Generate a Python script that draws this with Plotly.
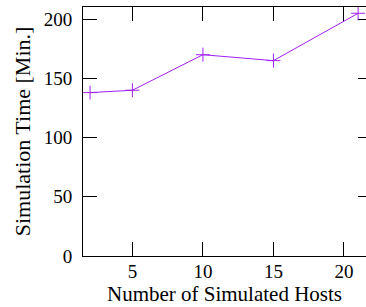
import plotly.graph_objects as go

hosts = [2, 5, 10, 15, 21]
sim_time = [138, 140, 170, 165, 205]
x_ticks = [5, 10, 15, 20]
y_ticks = [0, 50, 100, 150, 200]

FONT = "Liberation Serif"
COLOR = "#A020F0"

fig = go.Figure()
fig.add_trace(go.Scatter(
    x=hosts, y=sim_time, mode="lines+markers",
    line=dict(color=COLOR, width=1),
    marker=dict(symbol="cross-thin", size=10, line=dict(color=COLOR, width=1)),
    showlegend=False, cliponaxis=False,
))
# invisible trace for right-side ticks
fig.add_trace(go.Scatter(x=[hosts[0]], y=[sim_time[0]], yaxis="y2",
                         mode="markers", marker=dict(opacity=0),
                         showlegend=False, hoverinfo="skip"))

fig.update_layout(
    width=366, height=307,
    margin=dict(l=83, r=0, t=7, b=51),
    paper_bgcolor="white", plot_bgcolor="white",
    font=dict(family=FONT, size=19, color="black"),
    xaxis=dict(
        range=[1.5, 21.56], tickvals=x_ticks, ticks="inside", ticklen=14,
        tickcolor="black", tickwidth=1, showline=True, linecolor="black",
        linewidth=1, mirror="ticks", showgrid=False, zeroline=False,
        title=dict(text="Number of Simulated Hosts", font=dict(size=21), standoff=4),
        tickfont=dict(size=19), ticklabelstandoff=-2,
    ),
    yaxis=dict(
        range=[0, 210.3], tickvals=y_ticks, ticks="inside", ticklen=14,
        tickcolor="black", tickwidth=1, showline=True, linecolor="black",
        linewidth=1, mirror=False, showgrid=False, zeroline=False,
        title=dict(text="Simulation Time [Min.]", font=dict(size=22), standoff=7),
        tickfont=dict(size=19), ticklabelstandoff=6,
    ),
    yaxis2=dict(
        range=[0, 210.3], tickvals=y_ticks, ticks="inside", ticklen=8,
        tickcolor="black", tickwidth=1, showline=False, overlaying="y",
        side="right", showticklabels=False, showgrid=False, zeroline=False,
    ),
)

fig.write_html(
    "out.html",
    config={"displayModeBar": False},
    post_script="document.body.style.margin='0';document.body.style.overflow='hidden';",
)
